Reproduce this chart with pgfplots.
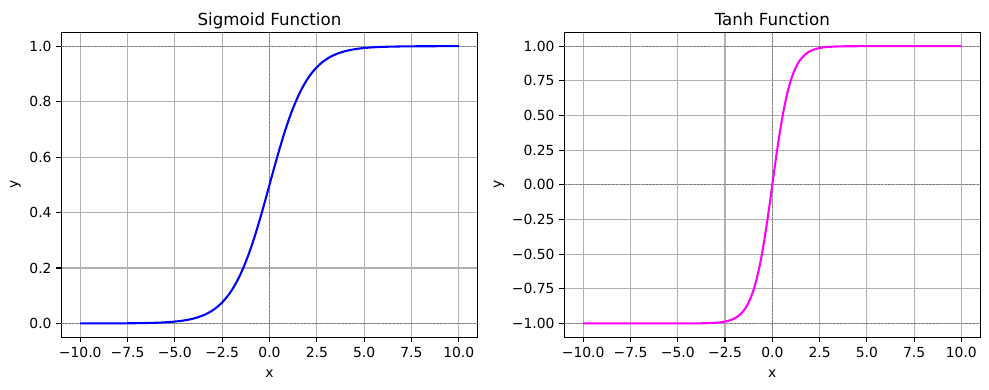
\documentclass[border=0pt]{standalone}
\usepackage{fontspec}
\setmainfont{DejaVu Sans}
\usepackage{pgfplots}
\pgfplotsset{compat=1.18}
\definecolor{gridgray}{HTML}{B0B0B0}
\definecolor{mplblue}{RGB}{0,0,255}
\definecolor{mplmag}{RGB}{255,0,255}
\pgfplotsset{
  mpl/.style={
    scale only axis,
    width=299.8bp, height=219.6bp,
    anchor=south west,
    xmin=-11, xmax=11,
    axis line style={line width=0.8bp, black},
    tick align=outside,
    major tick length=3.5bp,
    tick style={line width=0.8bp, black},
    xtick pos=bottom, ytick pos=left,
    grid=major,
    major grid style={line width=0.8bp, gridgray},
    xtick={-10,-7.5,-5,-2.5,0,2.5,5,7.5,10},
    xticklabels={−10.0,−7.5,−5.0,−2.5,0.0,2.5,5.0,7.5,10.0},
    ticklabel style={font=\fontsize{10.04}{12}\selectfont},
    xticklabel style={anchor=base, yshift=-14.4bp+3.5bp},
    label style={font=\fontsize{10.04}{12}\selectfont},
    xlabel style={at={(axis description cs:0.5,0)}, anchor=base, yshift=-28.6bp},
    title style={at={(axis description cs:0.5,1)}, anchor=base, yshift=-1.2bp, font=\fontsize{12.05}{14}\selectfont},
    xlabel={x}, ylabel={y},
    clip=true,
  },
  refline/.style={black!50, line width=0.55bp, dash pattern=on 1.85bp off 0.8bp, forget plot},
}
\begin{document}
\begin{tikzpicture}
\useasboundingbox (0,0) rectangle (712.08bp,280.8bp);
\begin{axis}[mpl,
  at={(44.14bp,37.94bp)},
  ymin=-0.05, ymax=1.05,
  ytick={0,0.2,0.4,0.6,0.8,1.0},
  yticklabels={0.0,0.2,0.4,0.6,0.8,1.0},
  ylabel style={at={(axis description cs:0,0.5)}, anchor=center, yshift=33bp},
  title={Sigmoid Function},
]
\addplot[refline] coordinates {(-11,0) (11,0)};
\addplot[refline] coordinates {(-11,1) (11,1)};
\addplot[refline] coordinates {(0,-0.05) (0,1.05)};
\addplot[mplblue, line width=1.5bp, smooth] coordinates {
(-10,0.0000454) (-9,0.0001234) (-8,0.0003354) (-7,0.000911) (-6,0.002473) (-5.5,0.004070)
(-5,0.006693) (-4.75,0.008577) (-4.5,0.010987) (-4.25,0.014064) (-4,0.017986) (-3.75,0.022977)
(-3.5,0.029312) (-3.25,0.037327) (-3,0.047426) (-2.75,0.060087) (-2.5,0.075858) (-2.25,0.095349)
(-2,0.119203) (-1.75,0.148047) (-1.5,0.182426) (-1.25,0.222700) (-1,0.268941) (-0.75,0.320821)
(-0.5,0.377541) (-0.25,0.437823) (0,0.5)
(0.25,0.562177) (0.5,0.622459) (0.75,0.679179) (1,0.731059) (1.25,0.777300) (1.5,0.817574)
(1.75,0.851953) (2,0.880797) (2.25,0.904651) (2.5,0.924142) (2.75,0.939913) (3,0.952574)
(3.25,0.962673) (3.5,0.970688) (3.75,0.977023) (4,0.982014) (4.25,0.985936) (4.5,0.989013)
(4.75,0.991423) (5,0.993307) (5.5,0.995930) (6,0.997527) (7,0.999089) (8,0.9996646)
(9,0.9998766) (10,0.9999546)
};
\end{axis}
\begin{axis}[mpl,
  at={(406.3bp,37.94bp)},
  width=299.5bp,
  ymin=-1.1, ymax=1.1,
  ytick={-1,-0.75,-0.5,-0.25,0,0.25,0.5,0.75,1},
  yticklabels={−1.00,−0.75,−0.50,−0.25,0.00,0.25,0.50,0.75,1.00},
  ylabel style={at={(axis description cs:0,0.5)}, anchor=center, yshift=47bp},
  title={Tanh Function},
]
\addplot[refline] coordinates {(-11,-1) (11,-1)};
\addplot[refline] coordinates {(-11,0) (11,0)};
\addplot[refline] coordinates {(-11,1) (11,1)};
\addplot[refline] coordinates {(0,-1.1) (0,1.1)};
\addplot[mplmag, line width=1.5bp, smooth] coordinates {
(-10,-1.0) (-6,-0.999988) (-5,-0.999909) (-4,-0.999329) (-3.5,-0.998178) (-3,-0.995055)
(-2.75,-0.991815) (-2.5,-0.986614) (-2.25,-0.978026) (-2,-0.964028) (-1.875,-0.954092)
(-1.75,-0.941376) (-1.625,-0.925346) (-1.5,-0.905148) (-1.375,-0.879868) (-1.25,-0.848284)
(-1.125,-0.809301) (-1,-0.761594) (-0.875,-0.703906) (-0.75,-0.635149) (-0.625,-0.554600)
(-0.5,-0.462117) (-0.375,-0.358357) (-0.25,-0.244919) (-0.125,-0.124353) (0,0)
(0.125,0.124353) (0.25,0.244919) (0.375,0.358357) (0.5,0.462117) (0.625,0.554600)
(0.75,0.635149) (0.875,0.703906) (1,0.761594) (1.125,0.809301) (1.25,0.848284)
(1.375,0.879868) (1.5,0.905148) (1.625,0.925346) (1.75,0.941376) (1.875,0.954092)
(2,0.964028) (2.25,0.978026) (2.5,0.986614) (2.75,0.991815) (3,0.995055) (3.5,0.998178)
(4,0.999329) (5,0.999909) (6,0.999988) (10,1.0)
};
\end{axis}
\end{tikzpicture}
\end{document}
